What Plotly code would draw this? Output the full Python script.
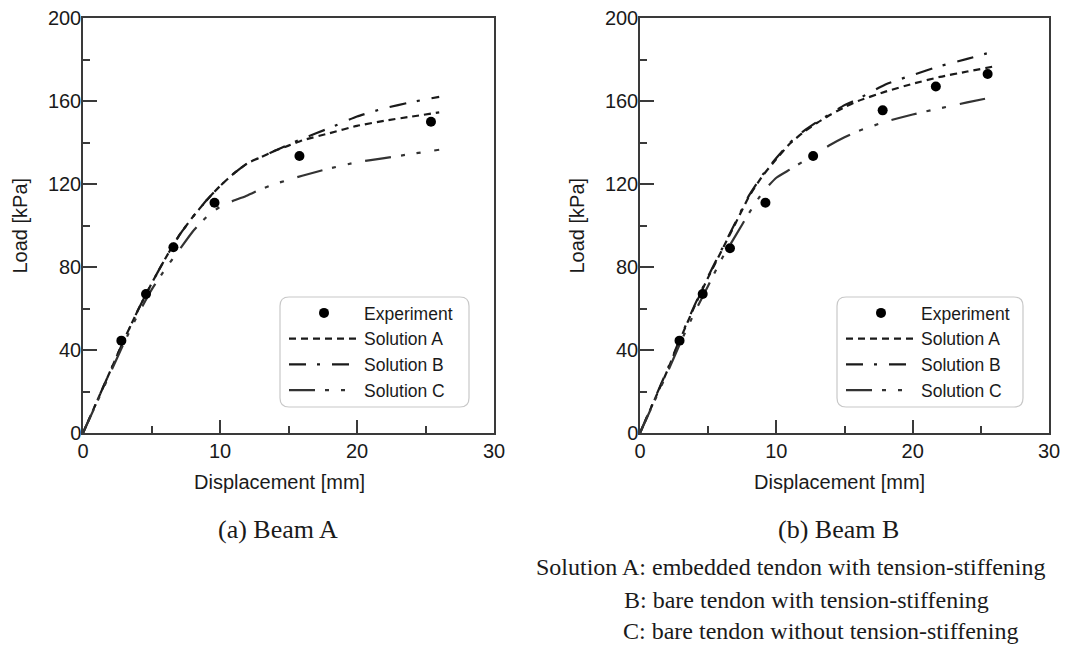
import plotly.graph_objects as go

W, H = 1065, 645

# ---------------- data ----------------
disp = [0, 1, 2, 3, 4, 5, 6, 7, 8, 9, 10, 11, 12, 13, 14, 15, 16, 18, 20, 22, 24, 26]

# Beam A
expA_x = [2.8, 4.6, 6.6, 9.6, 15.8, 25.4]
expA_y = [44.5, 67, 89.5, 111, 133.5, 150]
solA_A = [0, 15, 30, 45, 59, 72, 84, 95, 104, 112, 119, 125, 130, 133, 136, 138.5, 141, 144.5, 148, 150.5, 152.5, 154.5]
solB_A = [0, 15, 30, 45, 59, 72, 84, 95, 104, 112, 119, 125, 130, 133, 136, 139, 141.8, 147, 152.5, 156.5, 159.5, 162]
solC_A = [0, 14.5, 29, 43.5, 57, 69, 79, 88, 97, 104, 109, 112, 114.5, 117.5, 120, 122, 124, 127.5, 130.5, 132.5, 134.5, 136.5]

# Beam B
expB_x = [2.9, 4.6, 6.6, 9.2, 12.7, 17.8, 21.7, 25.5]
expB_y = [44.5, 67, 89, 111, 133.5, 155.5, 167, 173]
solA_B = [0, 15, 30, 46, 61, 75, 88, 101, 114, 124, 132, 139.5, 145, 149.5, 153.5, 157, 160, 164.5, 168.3, 171.6, 174.2, 176.7]
solB_B = [0, 15.3, 30.5, 46.5, 61.5, 75.5, 88.5, 101.5, 114.5, 124.5, 132.5, 140, 145.5, 150, 154, 158, 161, 168, 172.5, 176.8, 180.3, 184]
solC_B = [0, 14.5, 29, 44, 58, 71, 84, 95, 106, 116, 123, 127, 131, 135, 139, 142.5, 145.5, 150, 153.5, 156.5, 159.3, 162]

x_ticks = [0, 10, 20, 30]
y_ticks = [0, 40, 80, 120, 160, 200]

legend_names = ["Experiment", "Solution A", "Solution B", "Solution C"]
panel_labels = ["(a) Beam A", "(b) Beam B"]
caption = [
    "Solution A: embedded tendon with tension-stiffening",
    "B: bare tendon with tension-stiffening",
    "C: bare tendon without tension-stiffening",
]

# ---------------- styles ----------------
SANS = "Liberation Sans, Arial, sans-serif"
SERIF = "Liberation Serif, Times New Roman, serif"
INK = "#1a1a1a"
dashA = "7px,5px"
dashB = "17px,11px,3px,12px"
dashC = "26px,10px,4px,12px,4px,14px"


def px(x):
    return x / W


def py(y):
    return 1 - y / H


dom_y = [py(433), py(18)]
dom_x = [[px(83), px(494)], [px(640), px(1049)]]

fig = go.Figure()

panels = [
    (expA_x, expA_y, solA_A, solB_A, solC_A),
    (expB_x, expB_y, solA_B, solB_B, solC_B),
]

for i, (ex, ey, sa, sb, sc) in enumerate(panels):
    xa = "x" if i == 0 else "x2"
    ya = "y" if i == 0 else "y2"
    lg = "legend" if i == 0 else "legend2"
    fig.add_trace(go.Scatter(x=disp, y=sa, mode="lines", name=legend_names[1], xaxis=xa, yaxis=ya, legend=lg,
                             legendrank=2,
                             line=dict(color=INK, width=2.2, dash=dashA, shape="spline", smoothing=0.5)))
    fig.add_trace(go.Scatter(x=disp, y=sb, mode="lines", name=legend_names[2], xaxis=xa, yaxis=ya, legend=lg,
                             legendrank=3,
                             line=dict(color=INK, width=2.2, dash=dashB, shape="spline", smoothing=0.5)))
    fig.add_trace(go.Scatter(x=disp, y=sc, mode="lines", name=legend_names[3], xaxis=xa, yaxis=ya, legend=lg,
                             legendrank=4,
                             line=dict(color="#333333", width=2.2, dash=dashC, shape="spline", smoothing=0.5)))
    fig.add_trace(go.Scatter(x=ex, y=ey, mode="markers", name=legend_names[0], xaxis=xa, yaxis=ya, legend=lg,
                             legendrank=1,
                             marker=dict(color="black", size=10, symbol="circle")))

axis_common = dict(
    showgrid=False, zeroline=False, showline=True, mirror=True, automargin=False,
    linecolor="#3a3a3a", linewidth=1.5,
    ticks="inside", tickcolor="#3a3a3a", tickwidth=1.5,
    tickfont=dict(family=SANS, size=20, color=INK),
    ticklabeloverflow="allow",
)

for i in range(2):
    sx = "" if i == 0 else "2"
    fig.update_layout(**{
        "xaxis" + sx: dict(axis_common, domain=dom_x[i], range=[0, 30], tickvals=x_ticks, ticklen=13,
                           anchor="y" + sx, ticklabelstandoff=-1,
                           minor=dict(dtick=5, ticks="inside", ticklen=7, tickcolor="#3a3a3a", tickwidth=1.5)),
        "yaxis" + sx: dict(axis_common, domain=dom_y, range=[0, 200], tickvals=y_ticks, ticklen=14,
                           anchor="x" + sx, ticklabelstandoff=-4,
                           minor=dict(dtick=20, ticks="inside", ticklen=7, tickcolor="#3a3a3a", tickwidth=1.5)),
    })

legend_common = dict(
    font=dict(family=SANS, size=17.5, color=INK),
    bgcolor="rgba(0,0,0,0)", borderwidth=0,
    itemwidth=70, traceorder="normal",
    xanchor="left", yanchor="top", tracegroupgap=0,
)
fig.update_layout(
    legend=dict(legend_common, x=px(284), y=py(295)),
    legend2=dict(legend_common, x=px(841), y=py(295)),
)


def rounded_rect(x0, y0, x1, y1, r):
    def P(x, y):
        return f"{px(x):.5f},{py(y):.5f}"
    return (f"M {P(x0 + r, y0)} L {P(x1 - r, y0)} Q {P(x1, y0)} {P(x1, y0 + r)} "
            f"L {P(x1, y1 - r)} Q {P(x1, y1)} {P(x1 - r, y1)} "
            f"L {P(x0 + r, y1)} Q {P(x0, y1)} {P(x0, y1 - r)} "
            f"L {P(x0, y0 + r)} Q {P(x0, y0)} {P(x0 + r, y0)} Z")


shapes = []
for (x0, x1) in [(280, 469), (837, 1023)]:
    shapes.append(dict(type="path", xref="paper", yref="paper",
                       path=rounded_rect(x0, 297, x1, 407, 9),
                       line=dict(color="#c8c8c8", width=1.2), fillcolor="rgba(255,255,255,0)", layer="above"))

annotations = []
# axis titles
for cx in [19, 576]:
    annotations.append(dict(text="Load [kPa]", x=px(cx), y=py(225.5), xref="paper", yref="paper",
                            showarrow=False, textangle=-90, xanchor="center", yanchor="middle",
                            font=dict(family=SANS, size=20, color=INK)))
for cx in [279, 839]:
    annotations.append(dict(text="Displacement [mm]", x=px(cx), y=py(482), xref="paper", yref="paper",
                            showarrow=False, xanchor="center", yanchor="middle",
                            font=dict(family=SANS, size=20, color=INK)))
# panel labels
for cx, lab in zip([278, 838], panel_labels):
    annotations.append(dict(text=lab, x=px(cx), y=py(529), xref="paper", yref="paper",
                            showarrow=False, xanchor="center", yanchor="middle",
                            font=dict(family=SERIF, size=26, color=INK)))
# caption
for (lx, cy), txt in zip([(534, 567), (622, 600), (621, 631)], caption):
    annotations.append(dict(text=txt, x=px(lx), y=py(cy), xref="paper", yref="paper",
                            showarrow=False, xanchor="left", yanchor="middle",
                            font=dict(family=SERIF, size=24, color=INK)))

fig.update_layout(
    width=W, height=H,
    margin=dict(l=0, r=0, t=0, b=0, autoexpand=False),
    paper_bgcolor="white", plot_bgcolor="white",
    shapes=shapes, annotations=annotations,
    showlegend=True,
)

# remove the default 8px page margin so the figure fills the window exactly
fig.write_html(
    "out.html",
    config={"displayModeBar": False},
    post_script="document.body.style.margin='0px';document.documentElement.style.overflow='hidden';",
)
